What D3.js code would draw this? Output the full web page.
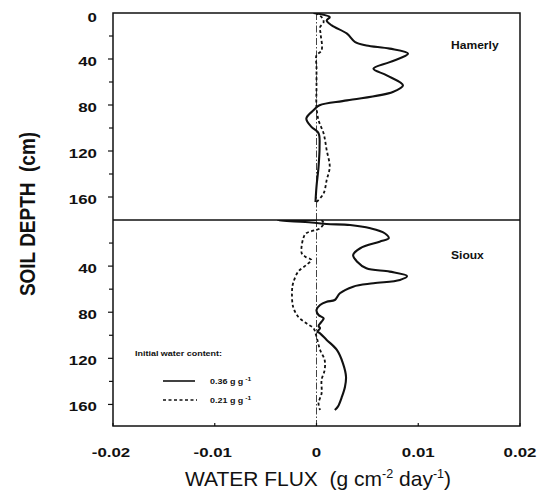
<!DOCTYPE html>
<html>
<head>
<meta charset="utf-8">
<script src="https://cdn.jsdelivr.net/npm/d3@7"></script>
<style>
  html, body { margin: 0; padding: 0; background: #fff; }
  svg { display: block; }
  text { font-family: "Liberation Sans", Arial, Helvetica, sans-serif; fill: #111; white-space: pre; }
</style>
</head>
<body>
<svg id="chart" width="543" height="501"></svg>
<script>
// ---------------- data ----------------
const xTicks = [-0.02, -0.01, 0, 0.01, 0.02];
const xTickLabels = ["-0.02", "-0.01", "0", "0.01", "0.02"];
const topDepthTicks = [0, 40, 80, 120, 160];
const bottomDepthTicks = [40, 80, 120, 160];
const minorDepthTicks = [20, 60, 100, 140];
const panelNames = ["Hamerly", "Sioux"];
const legendTitle = "Initial water content:";
const legendLabels = ["0.36 g g", "0.21 g g"];

// Hamerly, initial water content 0.36 g/g (solid)
const hamerlyWetDepth = [0, 3.6, 6.5, 10.8, 18, 25.3, 28.2, 31, 35.4, 42.7, 48.4, 54.2, 62.9, 68.7, 76, 80.2, 84.6, 91.8, 99, 104.5, 116.4, 133.8, 151, 164.3];
const hamerlyWetFlux  = [-0.0003, 0.0013, 0.001, 0.0015, 0.003, 0.0038, 0.0049, 0.0072, 0.009, 0.0072, 0.0056, 0.0069, 0.0085, 0.0075, 0.003, 0.0003, -0.0003, -0.001, -0.0005, 0.0002, 0.0003, 0.0002, 0.0, -0.0001];
// Hamerly, initial water content 0.21 g/g (dashed)
const hamerlyDryDepth = [0, 3.6, 8, 12.3, 18, 32.5, 36.9, 47, 64.3, 81.7, 93.2, 104.8, 119.2, 133.8, 145.3, 156.8, 164.3];
const hamerlyDryFlux  = [-0.0001, 0.0005, 0.0007, 0.00035, 0.0004, 0.0005, 0.0, 0.0, 0.0, 0.0, 0.0002, 0.0007, 0.001, 0.0013, 0.001, 0.0007, 0.0];
// Sioux, 0.36 g/g (solid)
const siouxWetDepth = [0, 0.3, 2.2, 3.5, 4.3, 7.2, 11.5, 15.9, 18.8, 24.5, 30.4, 36.2, 41.9, 44.8, 48.6, 52, 54.9, 57.8, 63.6, 69.4, 70.9, 73.7, 78, 82.4, 85.3, 88.2, 91.9, 93.9, 96.9, 98.3, 104, 112.7, 124.3, 135.9, 144.6, 153.3, 161.9, 164.8];
const siouxWetFlux  = [0, -0.0038, -0.0005, 0.001, 0.0033, 0.0053, 0.0067, 0.0071, 0.0062, 0.0043, 0.0036, 0.004, 0.0049, 0.0072, 0.0089, 0.0082, 0.0056, 0.0036, 0.0023, 0.0018, 0.001, 0.00035, 0, 0.0002, 0.0007, 0.0005, 0.0002, 0.00035, 0.0001, 0.00035, 0.001, 0.002, 0.0026, 0.0029, 0.0028, 0.0025, 0.0021, 0.0018];
// Sioux, 0.21 g/g (dashed)
const siouxDryDepth = [0, 2.9, 7.2, 11.5, 15.9, 28.9, 31.8, 34.7, 39, 44.8, 54.9, 60.7, 75.2, 83.9, 89.6, 93.9, 101.2, 112.7, 121.4, 130.1, 138.8, 150.3, 159, 164.8];
const siouxDryFlux  = [0.0005, 0.0007, 0.00035, -0.001, -0.0013, -0.00145, -0.0011, -0.0005, -0.001, -0.0018, -0.0023, -0.0024, -0.0023, -0.0018, -0.001, -0.0003, 0, 0.00035, 0.0008, 0.0008, 0.0005, 0.0005, 0.0002, 0.00035];

// ---------------- layout ----------------
const svg = d3.select("#chart");
const L = 113, R = 520, T = 13, MID = 220, B = 426;
const SX = 1.25; // horizontal stretch of the scanned lettering

const x = d3.scaleLinear().domain([-0.02, 0.02]).range([L, R]);
const yTop = d3.scaleLinear().domain([0, 180]).range([T, MID]);
const yBot = d3.scaleLinear().domain([0, 178.7]).range([MID, B]);

function sText(parent, px, py, str, size, weight, anchor, sx) {
  return parent.append("text")
    .attr("transform", `translate(${px},${py}) scale(${sx || SX},1)`)
    .attr("text-anchor", anchor || "start")
    .attr("font-size", size)
    .attr("font-weight", weight || "bold")
    .text(str);
}

// zero reference lines (dash-dot)
[[yTop, 0, 180], [yBot, 0, 178.7]].forEach(([ys, d0, d1]) => {
  svg.append("line")
    .attr("x1", x(0)).attr("x2", x(0))
    .attr("y1", ys(d0)).attr("y2", ys(d1))
    .attr("stroke", "#444").attr("stroke-width", 1)
    .attr("stroke-dasharray", "7,2,1.5,2");
});

// curves
svg.append("clipPath").attr("id", "ct").append("rect").attr("x", L).attr("y", T).attr("width", R - L).attr("height", MID - T);
svg.append("clipPath").attr("id", "cb").append("rect").attr("x", L).attr("y", MID).attr("width", R - L).attr("height", B - MID);

function drawCurve(depths, fluxes, ys, dashed, clip) {
  const pts = depths.map((d, i) => [fluxes[i], d]);
  const line = d3.line().x(p => x(p[0])).y(p => ys(p[1])).curve(d3.curveCatmullRom.alpha(0.5));
  svg.append("path")
    .attr("d", line(pts))
    .attr("clip-path", `url(#${clip})`)
    .attr("fill", "none")
    .attr("stroke", "#111")
    .attr("stroke-width", dashed ? 1.8 : 2.1)
    .attr("stroke-linejoin", "round")
    .attr("stroke-dasharray", dashed ? "3,2.5" : null);
}
drawCurve(hamerlyDryDepth, hamerlyDryFlux, yTop, true, "ct");
drawCurve(hamerlyWetDepth, hamerlyWetFlux, yTop, false, "ct");
drawCurve(siouxDryDepth, siouxDryFlux, yBot, true, "cb");
drawCurve(siouxWetDepth, siouxWetFlux, yBot, false, "cb");

// frame
svg.append("rect").attr("x", L).attr("y", T).attr("width", R - L).attr("height", B - T)
  .attr("fill", "none").attr("stroke", "#111").attr("stroke-width", 1.5);
svg.append("line").attr("x1", L).attr("x2", R).attr("y1", MID).attr("y2", MID)
  .attr("stroke", "#111").attr("stroke-width", 1.5);

// y ticks
function yTickMarks(ys, values, len) {
  values.forEach(v => {
    svg.append("line").attr("x1", L - len).attr("x2", L)
      .attr("y1", ys(v)).attr("y2", ys(v))
      .attr("stroke", "#111").attr("stroke-width", 1.2);
  });
}
yTickMarks(yTop, topDepthTicks.filter(v => v > 0), 5);
yTickMarks(yTop, minorDepthTicks, 4);
yTickMarks(yBot, bottomDepthTicks, 5);
yTickMarks(yBot, minorDepthTicks, 4);

topDepthTicks.forEach(v => sText(svg, 97, yTop(v) + 7 + (v === 0 ? 1.5 : 0), String(v), 13.5, "bold", "end"));
bottomDepthTicks.forEach(v => sText(svg, 97, yBot(v) + 7, String(v), 13.5, "bold", "end"));

// x ticks + labels
xTicks.forEach((v, i) => {
  svg.append("line").attr("x1", x(v)).attr("x2", x(v)).attr("y1", B).attr("y2", B - 3)
    .attr("stroke", "#111").attr("stroke-width", 1.2);
  sText(svg, x(v) - (v < 0 ? 2 : 0), 457, xTickLabels[i], 13.5, "bold", "middle");
});

// panel names
sText(svg, 451, 49, panelNames[0], 10.5, "bold", "start", 1.15);
sText(svg, 451, 259, panelNames[1], 10.5, "bold", "start", 1.15);

// legend
sText(svg, 135, 356, legendTitle, 8, "bold", "start", 1.12);
svg.append("line").attr("x1", 163).attr("x2", 195).attr("y1", 381).attr("y2", 381)
  .attr("stroke", "#111").attr("stroke-width", 1.6);
svg.append("line").attr("x1", 163).attr("x2", 197).attr("y1", 400).attr("y2", 400)
  .attr("stroke", "#111").attr("stroke-width", 1.6).attr("stroke-dasharray", "3,2.5");
[[381, legendLabels[0]], [400, legendLabels[1]]].forEach(([yy, lab]) => {
  const t = sText(svg, 210, yy + 3, "", 8, "bold", "start", 1.12);
  t.append("tspan").text(lab);
  t.append("tspan").attr("font-size", 6).attr("dy", -3).text(" -1");
});

// axis titles
const xt = svg.append("text")
  .attr("transform", `translate(318,486) scale(1.05,1)`)
  .attr("text-anchor", "middle").attr("font-size", 20).attr("font-weight", "normal");
xt.append("tspan").text("WATER FLUX  (g cm");
xt.append("tspan").attr("font-size", 12).attr("dy", -8).text("-2");
xt.append("tspan").attr("dy", 8).text(" day");
xt.append("tspan").attr("font-size", 12).attr("dy", -8).text("-1");
xt.append("tspan").attr("dy", 8).text(")");

svg.append("text")
  .attr("transform", `translate(35,214) scale(1.2,1) rotate(-90)`)
  .attr("text-anchor", "middle").attr("font-size", 19).attr("font-weight", "bold")
  .text("SOIL DEPTH  (cm)");
</script>
</body>
</html>
